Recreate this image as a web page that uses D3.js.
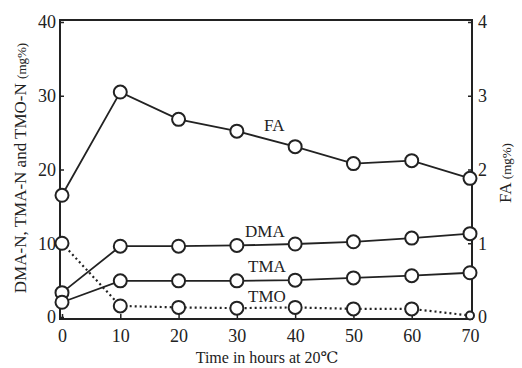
<!DOCTYPE html>
<html><head><meta charset="utf-8">
<script src="https://cdn.jsdelivr.net/npm/d3@7"></script>
<style>body{margin:0;background:#fff}</style>
</head><body>
<svg id="c" width="522" height="368"></svg>
<script>
const hours = [0, 10, 20, 30, 40, 50, 60, 70];
const faValues = [1.65, 3.05, 2.68, 2.52, 2.31, 2.08, 2.12, 1.88];
const dmaValues = [3.3, 9.6, 9.6, 9.7, 9.9, 10.2, 10.7, 11.3];
const tmaValues = [2.0, 4.9, 4.9, 4.9, 5.0, 5.3, 5.6, 6.0];
const tmoValues = [10.0, 1.5, 1.3, 1.2, 1.3, 1.1, 1.1, 0.2];
const leftTicks = [0, 10, 20, 30, 40];
const rightTicks = [0, 1, 2, 3, 4];
const xTicks = [0, 10, 20, 30, 40, 50, 60, 70];

const svg = d3.select("#c");
const font = "'Liberation Serif', 'DejaVu Serif', serif";
const ink = "#222";
const x = d3.scaleLinear().domain([0, 70]).range([62, 470]);
const yL = d3.scaleLinear().domain([0, 40]).range([317, 22]);
const yR = d3.scaleLinear().domain([0, 4]).range([317, 22]);

// frame
svg.append("rect").attr("x", 60).attr("y", 20).attr("width", 412).attr("height", 299)
  .attr("fill", "none").attr("stroke", ink).attr("stroke-width", 2);

// axes
const gx = svg.append("g").attr("transform", "translate(0,319)")
  .call(d3.axisBottom(x).tickValues(xTicks).tickSize(-5).tickPadding(10).tickFormat(d3.format("d")));
const gl = svg.append("g").attr("transform", "translate(60,0)")
  .call(d3.axisLeft(yL).tickValues(leftTicks).tickSize(-4).tickPadding(4).tickFormat(d3.format("d")));
const gr = svg.append("g").attr("transform", "translate(472,0)")
  .call(d3.axisRight(yR).tickValues(rightTicks).tickSize(-4).tickPadding(6).tickFormat(d3.format("d")));
[gx, gl, gr].forEach(g => {
  g.select(".domain").remove();
  g.selectAll("line").attr("stroke", ink).attr("stroke-width", 1.5);
  g.selectAll("text").attr("font-family", font).attr("font-size", 18).attr("fill", ink);
});

function series(vals, scale, dashed) {
  const line = d3.line().x((d, i) => x(hours[i])).y(d => scale(d));
  svg.append("path").datum(vals).attr("d", line).attr("fill", "none")
    .attr("stroke", ink).attr("stroke-width", dashed ? 2.2 : 1.8)
    .attr("stroke-dasharray", dashed ? "2,3" : null);
  svg.append("g").selectAll("circle").data(vals).join("circle")
    .attr("cx", (d, i) => x(hours[i])).attr("cy", d => scale(d))
    .attr("r", (d, i) => (dashed && i === vals.length - 1) ? 4 : 6.5)
    .attr("fill", "#fff").attr("stroke", ink).attr("stroke-width", 2);
}
series(faValues, yR, false);
series(dmaValues, yL, false);
series(tmaValues, yL, false);
series(tmoValues, yL, true);

// labels
const lab = (t, xx, yy) => svg.append("text").attr("x", xx).attr("y", yy)
  .attr("font-family", font).attr("font-size", 17).attr("fill", ink).text(t);
lab("FA", 264, 131);
lab("DMA", 245, 237);
lab("TMA", 248, 272);
lab("TMO", 248, 302);

// axis titles
const lt = svg.append("text").attr("transform", "translate(26,168) rotate(-90)")
  .attr("text-anchor", "middle").attr("font-family", font).attr("font-size", 17).attr("fill", ink);
lt.append("tspan").text("DMA-N, TMA-N and TMO-N ");
lt.append("tspan").attr("font-size", 13).text("(mg%)");

const rt = svg.append("text").attr("transform", "translate(511,173) rotate(-90)")
  .attr("text-anchor", "middle").attr("font-family", font).attr("font-size", 17).attr("fill", ink);
rt.append("tspan").text("FA ");
rt.append("tspan").attr("font-size", 13).text("(mg%)");

svg.append("text").attr("x", 267).attr("y", 363).attr("text-anchor", "middle")
  .attr("font-family", font).attr("font-size", 16).attr("fill", ink).text("Time in hours at 20℃");
</script>
</body></html>
